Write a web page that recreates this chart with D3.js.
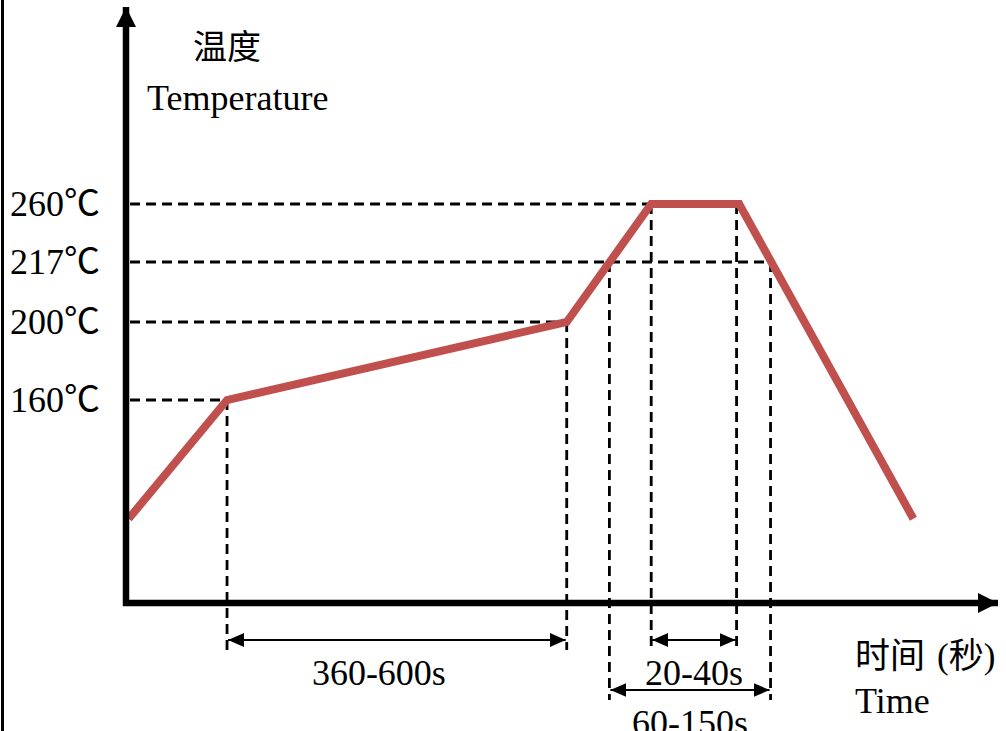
<!DOCTYPE html>
<html>
<head>
<meta charset="utf-8">
<script src="https://cdn.jsdelivr.net/npm/d3@7"></script>
<style>
  body { margin: 0; background: #fff; }
  svg { display: block; }
  text { font-family: "Liberation Serif", "Times New Roman", "Noto Sans CJK SC", serif; fill: #000; }
  .cjk { font-family: "Noto Sans CJK SC", sans-serif; }
</style>
</head>
<body>
<div id="chart"></div>
<script>
// reflow profile (schematic: time in % of axis length, temperature in °C)
const tempTicks = [160, 200, 217, 260];
const tempUnit = '℃';
// where each dashed temperature guide stops on the curve (time)
const tempGuideEnd = [11.6, 50.6, 74.0, 60.3];

const profileTime = [0.3, 11.6, 50.6, 60.3, 70.4, 90.4];
const profileTemp = [81, 160, 200, 260, 260, 81];

const spanLabels = ['360-600s', '20-40s', '60-150s'];
const spanFrom = [11.6, 60.3, 55.5];
const spanTo = [50.6, 70.1, 74.0];
const spanFromTemp = [160, 260, 217];
const spanToTemp = [200, 260, 217];
const spanRow = [0, 0, 1];

const width = 1006, height = 731;
const originX = 126, originY = 603;

const svg = d3.select('#chart').append('svg')
  .attr('width', width)
  .attr('height', height);

svg.append('rect').attr('width', width).attr('height', height).attr('fill', '#fff');

// left frame line
svg.append('line')
  .attr('x1', 2.5).attr('x2', 2.5).attr('y1', 0).attr('y2', height)
  .attr('stroke', '#000').attr('stroke-width', 3);

const x = d3.scaleLinear().domain([0, 100]).range([originX, 997]);
// the temperature axis is drawn schematically, so it is piecewise linear
const y = d3.scaleLinear()
  .domain([25, 160, 200, 217, 260])
  .range([originY, 400, 322, 262, 204]);

const defs = svg.append('defs');
defs.append('marker')
  .attr('id', 'dim-arrow')
  .attr('viewBox', '0 0 16 14')
  .attr('refX', 16).attr('refY', 7)
  .attr('markerWidth', 16).attr('markerHeight', 14)
  .attr('markerUnits', 'userSpaceOnUse')
  .attr('orient', 'auto-start-reverse')
  .append('path')
  .attr('d', 'M0,0L16,7L0,14Z')
  .attr('fill', '#000');

defs.append('marker')
  .attr('id', 'axis-arrow')
  .attr('viewBox', '0 0 20 20')
  .attr('refX', 20).attr('refY', 10)
  .attr('markerWidth', 20).attr('markerHeight', 20)
  .attr('markerUnits', 'userSpaceOnUse')
  .attr('orient', 'auto')
  .append('path')
  .attr('d', 'M0,0L20,10L0,20Z')
  .attr('fill', '#000');

const dash = '10,6';

// horizontal temperature guides
svg.append('g')
  .selectAll('line')
  .data(tempTicks)
  .enter().append('line')
  .attr('x1', originX + 4)
  .attr('x2', (d, i) => x(tempGuideEnd[i]))
  .attr('y1', d => y(d))
  .attr('y2', d => y(d))
  .attr('stroke', '#000')
  .attr('stroke-width', 2.8)
  .attr('stroke-dasharray', dash);

// vertical time guides and dimension arrows
const rowY = r => originY + 37 + r * 50;
const spans = spanLabels.map((label, i) => ({
  label, from: spanFrom[i], to: spanTo[i],
  fromTemp: spanFromTemp[i], toTemp: spanToTemp[i], row: spanRow[i]
}));

const vGuides = [];
spans.forEach(s => {
  vGuides.push({t: s.from, temp: s.fromTemp, row: s.row});
  vGuides.push({t: s.to, temp: s.toTemp, row: s.row});
});

svg.append('g')
  .selectAll('line')
  .data(vGuides)
  .enter().append('line')
  .attr('x1', d => x(d.t))
  .attr('x2', d => x(d.t))
  .attr('y1', d => y(d.temp))
  .attr('y2', d => rowY(d.row) + 10)
  .attr('stroke', '#000')
  .attr('stroke-width', 2.8)
  .attr('stroke-dasharray', dash);

const dims = svg.append('g')
  .selectAll('g')
  .data(spans)
  .enter().append('g');

dims.append('line')
  .attr('x1', d => x(d.from) + 1)
  .attr('x2', d => x(d.to) - 1)
  .attr('y1', d => rowY(d.row))
  .attr('y2', d => rowY(d.row))
  .attr('stroke', '#000')
  .attr('stroke-width', 2.2)
  .attr('marker-start', 'url(#dim-arrow)')
  .attr('marker-end', 'url(#dim-arrow)');

// the long span label sits a little left of centre in the original
dims.append('text')
  .attr('x', d => (x(d.from) + x(d.to)) / 2 - (d.row === 0 && d.to - d.from > 20 ? 18 : 0))
  .attr('y', d => rowY(d.row) + 45)
  .attr('text-anchor', 'middle')
  .style('font-size', '36px')
  .text(d => d.label);

// profile curve
const line = d3.line()
  .x(d => x(d[0]))
  .y(d => y(d[1]));

svg.append('path')
  .datum(profileTime.map((t, i) => [t, profileTemp[i]]))
  .attr('d', line)
  .attr('fill', 'none')
  .attr('stroke', '#c0504d')
  .attr('stroke-width', 8)
  .attr('stroke-linejoin', 'miter');

// axes
svg.append('line')
  .attr('x1', originX).attr('x2', originX)
  .attr('y1', originY + 3).attr('y2', 7)
  .attr('stroke', '#000').attr('stroke-width', 6.5)
  .attr('marker-end', 'url(#axis-arrow)');

svg.append('line')
  .attr('x1', originX - 3).attr('x2', 998)
  .attr('y1', originY).attr('y2', originY)
  .attr('stroke', '#000').attr('stroke-width', 6.5)
  .attr('marker-end', 'url(#axis-arrow)');

// temperature tick labels
const yAxis = svg.append('g')
  .attr('transform', `translate(${originX},0)`)
  .call(d3.axisLeft(y).tickValues(tempTicks).tickSize(0).tickPadding(26));
yAxis.select('.domain').remove();
yAxis.attr('font-family', null).attr('font-size', null);
yAxis.selectAll('text')
  .style('font-size', '36px')
  .attr('fill', '#000')
  .text(null)
  .call(t => t.append('tspan').text(d => d))
  .call(t => t.append('tspan').attr('class', 'cjk').text(tempUnit));

// axis titles
svg.append('text').attr('x', 193).attr('y', 59)
  .style('font-size', '34px').text('温度');
svg.append('text').attr('x', 147).attr('y', 110)
  .style('font-size', '36px').text('Temperature');
const timeTitle = svg.append('text').attr('x', 855).attr('y', 668)
  .style('font-size', '35px');
timeTitle.append('tspan').text('时间');
timeTitle.append('tspan').attr('dx', 12).text('(秒)');
svg.append('text').attr('x', 855).attr('y', 713)
  .style('font-size', '36px').text('Time');
</script>
</body>
</html>
